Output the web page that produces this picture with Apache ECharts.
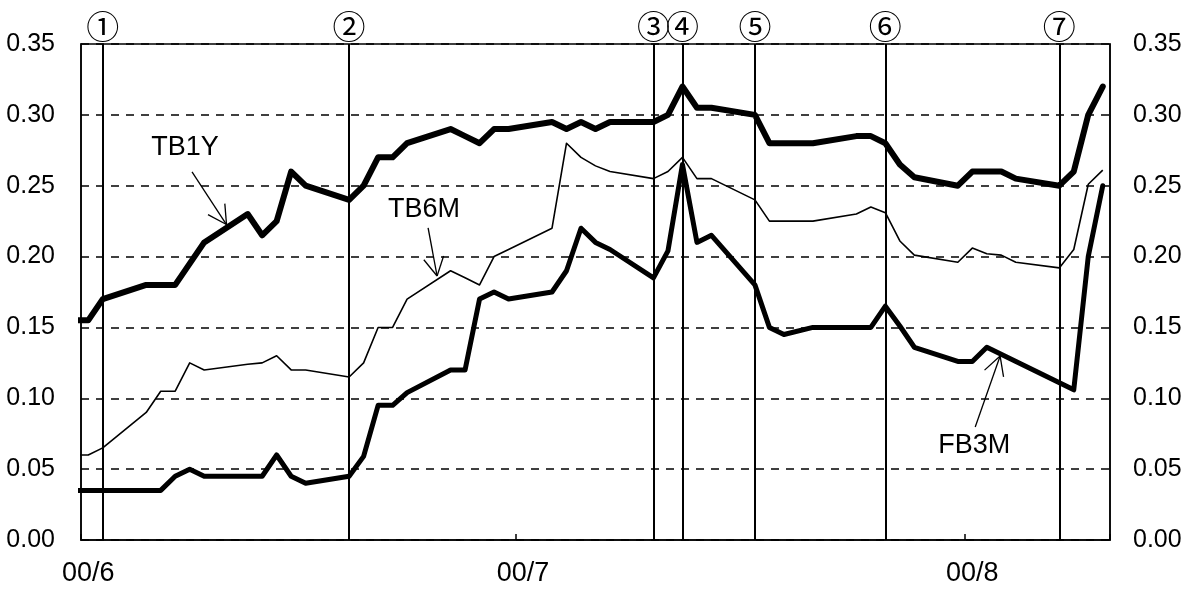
<!DOCTYPE html>
<html><head><meta charset="utf-8">
<script src="https://cdn.jsdelivr.net/npm/echarts@6/dist/echarts.min.js"></script>
<style>html,body{margin:0;padding:0;background:#fff}#c{width:1191px;height:589px}</style>
</head><body><div id="c"></div>
<script>
// trading days with quotes (the first one lies just left of the plotted range)
const tradeDates = [
 '2000-05-31',
 '2000-06-01','2000-06-02','2000-06-05','2000-06-06','2000-06-07','2000-06-08','2000-06-09',
 '2000-06-12','2000-06-13','2000-06-14','2000-06-15','2000-06-16','2000-06-19','2000-06-20',
 '2000-06-21','2000-06-22','2000-06-23','2000-06-26','2000-06-27','2000-06-28','2000-06-29','2000-06-30',
 '2000-07-03','2000-07-04','2000-07-05','2000-07-06','2000-07-07','2000-07-10','2000-07-11',
 '2000-07-12','2000-07-13','2000-07-14','2000-07-17','2000-07-18','2000-07-19','2000-07-21',
 '2000-07-24','2000-07-25','2000-07-26','2000-07-27','2000-07-28','2000-07-31',
 '2000-08-01','2000-08-02','2000-08-03','2000-08-04','2000-08-07','2000-08-08','2000-08-09','2000-08-10'
];
const tb1y = [
 0.155,
 0.155,0.17,0.18,0.18,0.18,0.195,0.21,
 0.23,0.215,0.225,0.26,0.25,0.24,0.25,
 0.27,0.27,0.28,0.29,0.285,0.28,0.29,0.29,
 0.295,0.29,0.295,0.29,0.295,0.295,0.30,
 0.32,0.305,0.305,0.30,0.28,0.28,0.28,
 0.285,0.285,0.28,0.265,0.256,0.25,
 0.26,0.26,0.26,0.255,0.25,0.26,0.30,0.32
];
const tb6m = [
 0.06,
 0.06,0.065,0.09,0.105,0.105,0.125,0.12,
 0.124,0.125,0.13,0.12,0.12,0.115,0.125,
 0.15,0.15,0.17,0.19,0.185,0.18,0.20,0.205,
 0.22,0.28,0.27,0.264,0.26,0.255,0.26,
 0.27,0.255,0.255,0.24,0.225,0.225,0.225,
 0.23,0.235,0.231,0.211,0.201,0.196,
 0.206,0.202,0.201,0.196,0.192,0.205,0.251,0.261
];
const fb3m = [
 0.035,
 0.035,0.035,0.035,0.035,0.045,0.05,0.045,
 0.045,0.045,0.06,0.045,0.04,0.045,0.059,
 0.095,0.095,0.104,0.12,0.12,0.17,0.175,0.17,
 0.175,0.19,0.22,0.21,0.205,0.185,0.204,
 0.265,0.21,0.215,0.18,0.15,0.145,0.15,
 0.15,0.15,0.165,0.151,0.136,0.126,
 0.126,0.136,null,null,null,0.106,0.20,0.25
];
const monthLabels = {'2000-06-01':'00/6','2000-07-01':'00/7','2000-08-01':'00/8'};
const eventNames = ['①','②','③','④','⑤','⑥','⑦'];
const eventDates = ['2000-06-02','2000-06-19','2000-07-10','2000-07-12','2000-07-17','2000-07-26','2000-08-07'];
const seriesNames = ['TB1Y','TB6M','FB3M'];
// annotation anchors: [category position, value]
const noteText = ['TB1Y','TB6M','FB3M'];
const noteLabel = [[7.68,0.2766],[24.17,0.2329],[62.13,0.0663]];
const noteTail  = [[8.16,0.2597],[24.45,0.2202],[62.2,0.0797]];
const noteTip   = [[10.54,0.2226],[25.07,0.1863],[63.92,0.1298]];

// calendar-day category axis
const calendar = [];
(function(){
  let d = new Date(Date.UTC(2000,4,31));
  const end = Date.UTC(2000,7,10);
  while (d.getTime() <= end) {
    calendar.push(d.toISOString().slice(0,10));
    d = new Date(d.getTime() + 86400000);
  }
})();
function onCalendar(vals){
  const m = {};
  tradeDates.forEach((t,i)=>{ m[t] = vals[i]; });
  return calendar.map(c => (c in m) ? m[c] : null);
}

const chart = echarts.init(document.getElementById('c'), null, {renderer:'canvas'});
const axisFontY = {fontFamily:'"Liberation Sans",Arial,sans-serif', fontSize:25, color:'#000'};
const isMonth = (idx, val) => monthLabels[val] !== undefined;

const option = {
  animation:false,
  backgroundColor:'#fff',
  grid:{left:81, right:81, top:44, bottom:49, show:true, borderColor:'#000', borderWidth:1.5, backgroundColor:'transparent'},
  xAxis:{
    type:'category', data:calendar, boundaryGap:true, min:1,
    axisLine:{show:true, lineStyle:{color:'#000', width:1.5}},
    axisTick:{show:true, inside:true, length:6, alignWithLabel:false, interval:isMonth, lineStyle:{color:'#000', width:1.5}},
    axisLabel:{interval:isMonth, formatter:v => monthLabels[v] || '', margin:20,
      fontFamily:'"Liberation Sans",Arial,sans-serif', fontSize:27, color:'#000'},
    splitLine:{show:false}
  },
  yAxis:[
    {type:'value', min:0, max:0.35, interval:0.05, position:'left',
     axisLine:{show:true, lineStyle:{color:'#000', width:1.5}}, axisTick:{show:false},
     axisLabel:Object.assign({formatter:v=>v.toFixed(2), margin:26}, axisFontY),
     splitLine:{show:true, lineStyle:{color:'#000', width:1.5, type:[8,7]}}},
    {type:'value', min:0, max:0.35, interval:0.05, position:'right',
     axisLine:{show:true, lineStyle:{color:'#000', width:1.5}}, axisTick:{show:false},
     axisLabel:Object.assign({formatter:v=>v.toFixed(2), margin:23}, axisFontY),
     splitLine:{show:false}}
  ],
  series:[
    {name:seriesNames[0], type:'line', data:onCalendar(tb1y), connectNulls:true, showSymbol:false, clip:true,
     lineStyle:{color:'#000', width:6, join:'round', cap:'round'}, z:3},
    {name:seriesNames[1], type:'line', data:onCalendar(tb6m), connectNulls:true, showSymbol:false, clip:true,
     lineStyle:{color:'#000', width:1.6, join:'round'}, z:3},
    {name:seriesNames[2], type:'line', data:onCalendar(fb3m), connectNulls:true, showSymbol:false, clip:true,
     lineStyle:{color:'#000', width:5, join:'round', cap:'round'}, z:3,
     markLine:{silent:true, symbol:['none','none'], animation:false,
       lineStyle:{color:'#000', width:2, type:'solid'},
       label:{show:true, position:'end', formatter:'{b}', distance:1,
         fontFamily:'"Noto Sans CJK JP",sans-serif', fontSize:33, color:'#000'},
       emphasis:{disabled:true},
       data:eventDates.map((d,i)=>({name:eventNames[i], xAxis:d}))}}
  ]
};
chart.setOption(option);

function px(p){
  const i0 = Math.floor(p[0]), f = p[0]-i0;
  const a = chart.convertToPixel({gridIndex:0},[calendar[i0], p[1]]);
  const b = chart.convertToPixel({gridIndex:0},[calendar[Math.min(i0+1,calendar.length-1)], p[1]]);
  return [a[0] + (b[0]-a[0])*f, a[1]];
}
const gfx = [];
noteText.forEach((t,k)=>{
  const L = px(noteLabel[k]), A = px(noteTail[k]), B = px(noteTip[k]);
  gfx.push({type:'text', x:L[0], y:L[1], silent:true, z:10,
    style:{text:t, fill:'#000', font:'27px "Liberation Sans", Arial, sans-serif', align:'center', verticalAlign:'middle'}});
  gfx.push({type:'line', silent:true, z:10, shape:{x1:A[0],y1:A[1],x2:B[0],y2:B[1]}, style:{stroke:'#000', lineWidth:1.3}});
  const ang = Math.atan2(A[1]-B[1], A[0]-B[0]);
  [0.5,-0.5].forEach(s=>{
    const a2 = ang + s, len = 21;
    gfx.push({type:'line', silent:true, z:10,
      shape:{x1:B[0],y1:B[1],x2:B[0]+len*Math.cos(a2),y2:B[1]+len*Math.sin(a2)},
      style:{stroke:'#000', lineWidth:1.3}});
  });
});
chart.setOption({graphic:gfx});
</script>
</body></html>
